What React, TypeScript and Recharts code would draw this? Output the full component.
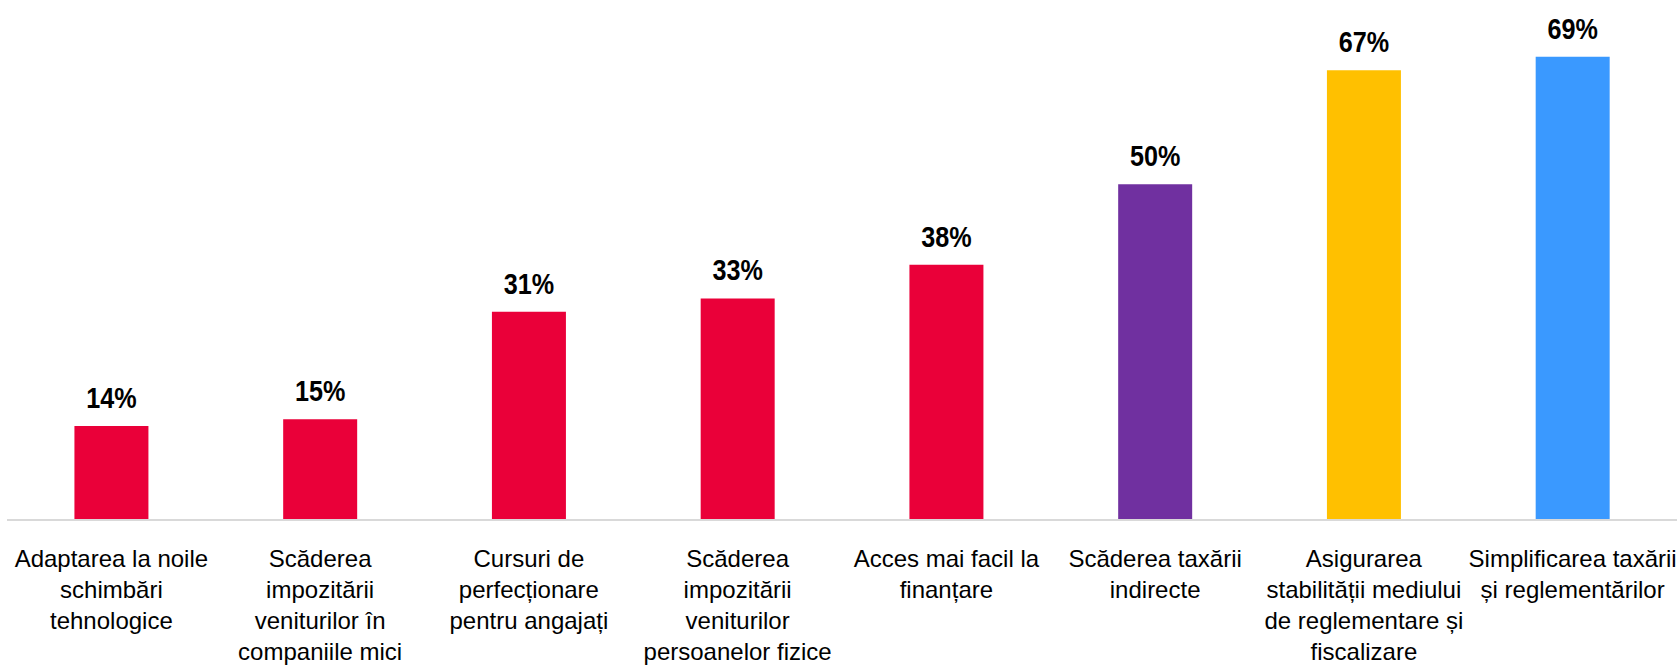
import { BarChart, Bar, XAxis, YAxis, Cell, LabelList } from "recharts";

const categories = [
  "Adaptarea la noile\nschimbări\ntehnologice",
  "Scăderea\nimpozitării\nveniturilor în\ncompaniile mici",
  "Cursuri de\nperfecționare\npentru angajați",
  "Scăderea\nimpozitării\nveniturilor\npersoanelor fizice",
  "Acces mai facil la\nfinanțare",
  "Scăderea taxării\nindirecte",
  "Asigurarea\nstabilității mediului\nde reglementare și\nfiscalizare",
  "Simplificarea taxării\nși reglementărilor",
];

const values = [14, 15, 31, 33, 38, 50, 67, 69];

const barColors = [
  "#EA0039",
  "#EA0039",
  "#EA0039",
  "#EA0039",
  "#EA0039",
  "#7030A0",
  "#FFC000",
  "#3A99FF",
];

const data = categories.map((name, i) => ({ name, value: values[i] }));

const CategoryTick = (props: any) => {
  const { x, y, payload } = props;
  const lines = String(payload.value).split("\n");
  return (
    <g transform={`translate(${x},${y})`}>
      <text
        textAnchor="middle"
        fill="#000"
        fontSize={24}
        fontFamily="'Liberation Sans', Arial, sans-serif"
      >
        {lines.map((line, i) => (
          <tspan key={i} x={0} y={47 + i * 31}>
            {line}
          </tspan>
        ))}
      </text>
    </g>
  );
};

// narrow bold value label above each bar (no Arial Narrow here, so squeeze it)
const ValueLabel = (props: any) => {
  const { x, y, width, value } = props;
  const cx = Number(x) + Number(width) / 2;
  const by = Number(y) - 18;
  return (
    <text
      transform={`translate(${cx},${by}) scale(0.84,1)`}
      textAnchor="middle"
      fill="#000"
      fontSize={30}
      fontWeight="bold"
      fontFamily="'Liberation Sans', Arial, sans-serif"
    >
      {`${value}%`}
    </text>
  );
};

export default function App() {
  return (
    <div style={{ position: "absolute", left: 0, top: 0, width: 1680, height: 671, background: "#fff" }}>
      <BarChart
        width={1680}
        height={671}
        data={data}
        margin={{ top: 50, right: 3, left: 7, bottom: 0 }}
        barCategoryGap="32.3%"
      >
        <XAxis
          dataKey="name"
          interval={0}
          height={151}
          tickLine={false}
          tickSize={0}
          tickMargin={0}
          axisLine={{ stroke: "#d9d9d9", strokeWidth: 2 }}
          tick={<CategoryTick />}
        />
        <YAxis hide domain={[0, 70]} />
        <Bar dataKey="value" isAnimationActive={false}>
          {data.map((d, i) => (
            <Cell key={d.name} fill={barColors[i]} />
          ))}
          <LabelList dataKey="value" content={<ValueLabel />} />
        </Bar>
      </BarChart>
    </div>
  );
}
